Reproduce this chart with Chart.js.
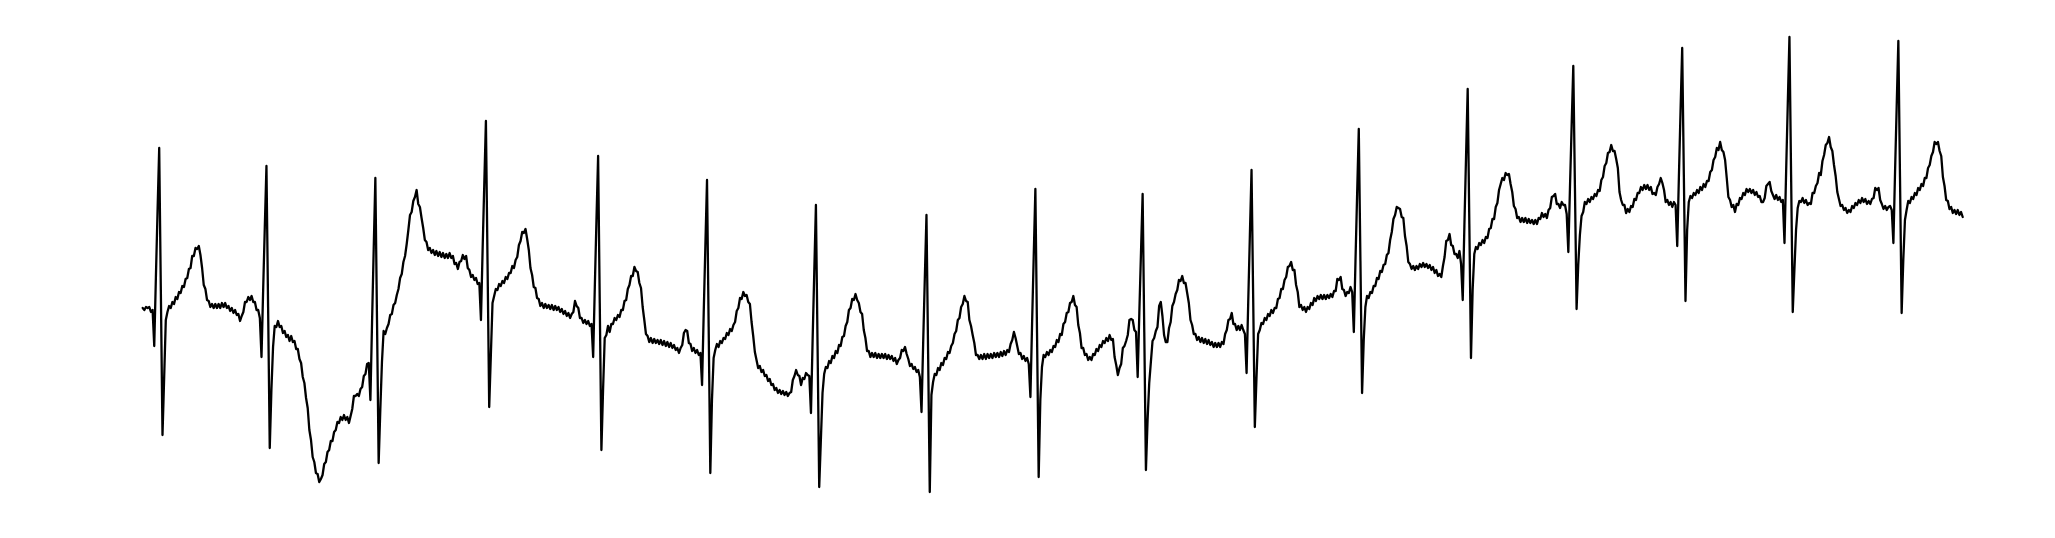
<!DOCTYPE html>
<html>
<head>
<meta charset="utf-8">
<title>ECG</title>
<script src="https://cdn.jsdelivr.net/npm/chart.js@4/dist/chart.umd.min.js"></script>
<style>
  html, body { margin: 0; padding: 0; background: #fff; }
  canvas { display: block; }
</style>
</head>
<body>
<canvas id="ecgChart" width="2055" height="538"></canvas>
<script>
// ECG amplitude in mV, one value per sample
var ecgMv = [
  0.02, 0.00, 0.03, 0.02, 0.03, -0.02, 0.00, -0.36, 0.33, 0.99, 1.62, 0.19, -1.25, -0.68, -0.10, -0.02, 0.04, 0.02, 0.08, 0.06,
  0.13, 0.11, 0.18, 0.17, 0.24, 0.23, 0.31, 0.32, 0.41, 0.42, 0.54, 0.54, 0.62, 0.61, 0.64, 0.55, 0.42, 0.25, 0.21, 0.10,
  0.09, 0.03, 0.06, 0.02, 0.06, 0.02, 0.06, 0.02, 0.07, 0.03, 0.07, 0.02, 0.04, -0.01, 0.02, -0.03, 0.00, -0.05, -0.04, -0.11,
  -0.06, -0.02, 0.08, 0.08, 0.13, 0.10, 0.14, 0.08, 0.08, 0.00, 0.00, -0.08, -0.47, 0.20, 0.83, 1.44, 0.03, -1.38, -0.80, -0.37,
  -0.16, -0.17, -0.11, -0.17, -0.16, -0.23, -0.21, -0.27, -0.25, -0.31, -0.26, -0.32, -0.31, -0.39, -0.39, -0.49, -0.53, -0.67, -0.73, -0.88,
  -0.98, -1.20, -1.30, -1.47, -1.52, -1.63, -1.64, -1.72, -1.69, -1.65, -1.54, -1.52, -1.42, -1.40, -1.31, -1.31, -1.22, -1.20, -1.12, -1.13,
  -1.07, -1.10, -1.05, -1.10, -1.07, -1.13, -1.06, -0.99, -0.86, -0.86, -0.84, -0.86, -0.79, -0.77, -0.66, -0.64, -0.54, -0.53, -0.90, -0.12,
  0.61, 1.32, -0.10, -1.53, -1.00, -0.52, -0.21, -0.24, -0.18, -0.14, -0.05, -0.04, 0.05, 0.07, 0.15, 0.21, 0.32, 0.36, 0.48, 0.54,
  0.66, 0.80, 0.95, 0.98, 1.09, 1.13, 1.20, 1.06, 1.03, 0.92, 0.82, 0.70, 0.68, 0.60, 0.62, 0.57, 0.60, 0.55, 0.59, 0.54,
  0.58, 0.53, 0.57, 0.52, 0.56, 0.52, 0.57, 0.52, 0.54, 0.46, 0.47, 0.41, 0.48, 0.49, 0.55, 0.51, 0.54, 0.42, 0.40, 0.33,
  0.35, 0.30, 0.32, 0.26, 0.27, -0.10, 0.60, 1.25, 1.89, 0.46, -0.97, -0.45, 0.07, 0.14, 0.21, 0.20, 0.26, 0.24, 0.29, 0.27,
  0.33, 0.31, 0.37, 0.37, 0.44, 0.42, 0.50, 0.53, 0.65, 0.69, 0.78, 0.77, 0.81, 0.71, 0.60, 0.42, 0.35, 0.23, 0.22, 0.12,
  0.11, 0.04, 0.07, 0.02, 0.06, 0.02, 0.05, 0.01, 0.05, 0.00, 0.04, 0.00, 0.03, -0.02, 0.01, -0.04, -0.01, -0.06, -0.03, -0.08,
  -0.04, -0.02, 0.09, 0.04, 0.02, -0.08, -0.08, -0.13, -0.10, -0.14, -0.11, -0.16, -0.14, -0.47, 0.23, 0.90, 1.54, 0.07, -1.40, -0.80,
  -0.28, -0.25, -0.16, -0.22, -0.14, -0.14, -0.08, -0.10, -0.05, -0.07, 0.00, 0.00, 0.09, 0.10, 0.21, 0.25, 0.34, 0.34, 0.43, 0.39,
  0.38, 0.27, 0.22, 0.03, -0.10, -0.24, -0.26, -0.32, -0.28, -0.33, -0.29, -0.33, -0.30, -0.34, -0.30, -0.35, -0.31, -0.36, -0.32, -0.37,
  -0.33, -0.38, -0.35, -0.40, -0.38, -0.43, -0.38, -0.35, -0.23, -0.20, -0.21, -0.33, -0.34, -0.41, -0.38, -0.43, -0.40, -0.45, -0.43, -0.75,
  -0.03, 0.64, 1.30, -0.17, -1.63, -0.90, -0.48, -0.40, -0.34, -0.37, -0.31, -0.33, -0.28, -0.29, -0.23, -0.25, -0.19, -0.21, -0.15, -0.12,
  -0.01, 0.02, 0.12, 0.11, 0.18, 0.14, 0.15, 0.08, 0.06, -0.12, -0.26, -0.42, -0.50, -0.58, -0.56, -0.62, -0.60, -0.66, -0.65, -0.71,
  -0.69, -0.75, -0.74, -0.80, -0.78, -0.83, -0.80, -0.84, -0.81, -0.85, -0.82, -0.86, -0.83, -0.82, -0.70, -0.66, -0.60, -0.65, -0.66, -0.75,
  -0.68, -0.69, -0.63, -0.65, -0.66, -1.03, -0.30, 0.38, 1.05, -0.36, -1.77, -1.30, -0.83, -0.64, -0.57, -0.58, -0.51, -0.53, -0.46, -0.48,
  -0.41, -0.43, -0.35, -0.36, -0.27, -0.26, -0.16, -0.12, 0.00, 0.02, 0.11, 0.10, 0.16, 0.10, 0.07, -0.02, -0.04, -0.20, -0.28, -0.41,
  -0.41, -0.47, -0.43, -0.47, -0.43, -0.48, -0.44, -0.48, -0.44, -0.48, -0.44, -0.49, -0.45, -0.49, -0.46, -0.51, -0.48, -0.54, -0.50, -0.48,
  -0.40, -0.41, -0.37, -0.44, -0.49, -0.56, -0.54, -0.59, -0.57, -0.62, -0.60, -0.67, -1.02, -0.33, 0.32, 0.95, -0.44, -1.82, -0.85, -0.72,
  -0.64, -0.65, -0.58, -0.60, -0.53, -0.55, -0.48, -0.49, -0.42, -0.43, -0.36, -0.33, -0.24, -0.21, -0.10, -0.08, 0.03, 0.06, 0.14, 0.09,
  0.08, -0.10, -0.16, -0.25, -0.33, -0.45, -0.45, -0.49, -0.45, -0.49, -0.44, -0.49, -0.44, -0.48, -0.44, -0.48, -0.43, -0.47, -0.43, -0.47,
  -0.42, -0.46, -0.41, -0.45, -0.40, -0.42, -0.34, -0.30, -0.22, -0.28, -0.36, -0.44, -0.43, -0.49, -0.46, -0.51, -0.48, -0.54, -0.87, -0.14,
  0.54, 1.21, -0.23, -1.67, -0.90, -0.57, -0.45, -0.47, -0.42, -0.45, -0.40, -0.42, -0.36, -0.37, -0.30, -0.32, -0.24, -0.25, -0.14, -0.12,
  -0.03, -0.02, 0.07, 0.08, 0.14, 0.05, 0.03, -0.15, -0.23, -0.38, -0.38, -0.45, -0.44, -0.50, -0.47, -0.50, -0.44, -0.45, -0.39, -0.41,
  -0.35, -0.37, -0.31, -0.33, -0.28, -0.31, -0.25, -0.30, -0.29, -0.47, -0.55, -0.65, -0.58, -0.54, -0.38, -0.36, -0.31, -0.25, -0.10, -0.09,
  -0.10, -0.20, -0.22, -0.67, -0.03, 0.57, 1.16, -0.22, -1.60, -1.10, -0.73, -0.52, -0.31, -0.28, -0.21, -0.17, 0.04, 0.08, -0.06, -0.25,
  -0.32, -0.32, -0.18, -0.12, 0.04, 0.08, 0.16, 0.20, 0.30, 0.29, 0.34, 0.27, 0.27, 0.17, 0.07, -0.10, -0.15, -0.24, -0.24, -0.30,
  -0.27, -0.32, -0.28, -0.33, -0.29, -0.34, -0.30, -0.35, -0.32, -0.37, -0.33, -0.37, -0.33, -0.37, -0.32, -0.34, -0.24, -0.20, -0.10, -0.09,
  -0.03, -0.14, -0.14, -0.20, -0.16, -0.20, -0.15, -0.20, -0.24, -0.63, 0.08, 0.75, 1.40, 0.12, -1.17, -0.68, -0.24, -0.20, -0.13, -0.14,
  -0.08, -0.10, -0.04, -0.06, 0.00, -0.03, 0.02, 0.02, 0.11, 0.12, 0.21, 0.21, 0.30, 0.33, 0.43, 0.44, 0.48, 0.40, 0.40, 0.25,
  0.18, 0.03, 0.05, 0.00, 0.03, -0.02, 0.03, 0.01, 0.07, 0.05, 0.12, 0.09, 0.14, 0.11, 0.15, 0.11, 0.15, 0.11, 0.15, 0.12,
  0.16, 0.13, 0.19, 0.19, 0.31, 0.30, 0.33, 0.21, 0.20, 0.14, 0.18, 0.17, 0.23, 0.18, -0.22, 0.49, 1.16, 1.81, 0.49, -0.83,
  -0.30, 0.03, 0.14, 0.12, 0.18, 0.17, 0.24, 0.24, 0.32, 0.31, 0.39, 0.38, 0.45, 0.46, 0.55, 0.57, 0.70, 0.78, 0.91, 0.95,
  1.03, 1.02, 1.01, 0.93, 0.92, 0.74, 0.64, 0.48, 0.46, 0.41, 0.44, 0.40, 0.44, 0.41, 0.46, 0.43, 0.47, 0.43, 0.46, 0.42,
  0.45, 0.40, 0.43, 0.37, 0.40, 0.34, 0.36, 0.33, 0.44, 0.53, 0.69, 0.70, 0.76, 0.65, 0.64, 0.56, 0.56, 0.52, 0.59, 0.46,
  0.10, 0.84, 1.53, 2.21, 0.86, -0.48, 0.20, 0.56, 0.63, 0.61, 0.67, 0.65, 0.70, 0.67, 0.73, 0.72, 0.81, 0.82, 0.91, 0.91,
  1.03, 1.07, 1.20, 1.26, 1.32, 1.30, 1.37, 1.35, 1.36, 1.26, 1.18, 1.04, 1.01, 0.92, 0.93, 0.88, 0.92, 0.88, 0.92, 0.87,
  0.91, 0.87, 0.90, 0.86, 0.90, 0.86, 0.92, 0.91, 0.97, 0.93, 0.96, 0.92, 1.00, 1.02, 1.13, 1.14, 1.16, 1.06, 1.06, 1.02,
  1.08, 1.05, 1.05, 0.96, 0.58, 1.23, 1.84, 2.44, 1.22, 0.01, 0.45, 0.75, 0.94, 0.98, 1.08, 1.06, 1.11, 1.08, 1.13, 1.11,
  1.16, 1.14, 1.20, 1.19, 1.30, 1.33, 1.44, 1.47, 1.57, 1.58, 1.65, 1.59, 1.59, 1.51, 1.42, 1.18, 1.10, 1.05, 1.05, 0.97,
  1.01, 0.98, 1.04, 1.03, 1.11, 1.10, 1.17, 1.17, 1.23, 1.20, 1.25, 1.21, 1.25, 1.20, 1.23, 1.16, 1.17, 1.15, 1.23, 1.26,
  1.32, 1.27, 1.20, 1.08, 1.10, 1.05, 1.08, 1.03, 1.08, 1.05, 0.64, 1.33, 1.99, 2.62, 1.35, 0.09, 0.80, 1.08, 1.14, 1.12,
  1.17, 1.15, 1.20, 1.17, 1.23, 1.20, 1.26, 1.23, 1.29, 1.29, 1.38, 1.40, 1.50, 1.53, 1.62, 1.60, 1.68, 1.60, 1.58, 1.50,
  1.32, 1.13, 1.10, 1.03, 1.05, 0.98, 1.06, 1.05, 1.12, 1.11, 1.17, 1.15, 1.21, 1.18, 1.21, 1.17, 1.20, 1.15, 1.18, 1.13,
  1.14, 1.08, 1.08, 1.12, 1.24, 1.26, 1.28, 1.19, 1.15, 1.11, 1.15, 1.10, 1.13, 1.08, 1.10, 0.67, 1.39, 2.07, 2.73, 1.35,
  -0.02, 0.40, 0.80, 1.02, 1.09, 1.08, 1.12, 1.07, 1.10, 1.05, 1.07, 1.06, 1.17, 1.17, 1.24, 1.27, 1.37, 1.35, 1.49, 1.55,
  1.65, 1.67, 1.73, 1.63, 1.59, 1.45, 1.34, 1.18, 1.11, 1.04, 1.05, 1.00, 1.02, 0.97, 1.00, 0.98, 1.04, 1.02, 1.07, 1.05,
  1.10, 1.07, 1.12, 1.08, 1.11, 1.06, 1.09, 1.06, 1.11, 1.12, 1.22, 1.20, 1.22, 1.10, 1.06, 1.01, 1.04, 1.00, 1.03, 1.04,
  1.00, 0.67, 1.38, 2.04, 2.69, 1.33, -0.03, 0.50, 0.90, 1.00, 1.09, 1.07, 1.13, 1.11, 1.17, 1.15, 1.22, 1.20, 1.26, 1.24,
  1.32, 1.32, 1.42, 1.45, 1.54, 1.58, 1.68, 1.66, 1.68, 1.59, 1.54, 1.33, 1.24, 1.10, 1.09, 1.01, 1.03, 0.97, 1.00, 0.96,
  1.00, 0.95, 0.98, 0.93
];

// sample numbers along the x axis
var sampleIndex = ecgMv.map(function(v, i) { return i; });

// visible amplitude window (mV)
var yMin = -2.2;
var yMax = 3.0;

var ctx = document.getElementById('ecgChart').getContext('2d');
var ecgChart = new Chart(ctx, {
    type: 'line',
    data: {
        labels: sampleIndex,
        datasets: [{
            label: 'ECG',
            data: ecgMv,
            borderColor: '#000000',
            borderWidth: 2.3,
            borderJoinStyle: 'round',
            borderCapStyle: 'round',
            pointRadius: 0,
            tension: 0,
            fill: false,
            clip: false
        }]
    },
    options: {
        responsive: false,
        animation: false,
        events: [],
        layout: {
            padding: { left: 142.7, right: 92.3, top: 10, bottom: 8 }
        },
        plugins: {
            legend: { display: false },
            tooltip: { enabled: false }
        },
        scales: {
            x: { type: 'category', display: false, offset: false },
            y: { display: false, min: yMin, max: yMax }
        }
    }
});
</script>
</body>
</html>
